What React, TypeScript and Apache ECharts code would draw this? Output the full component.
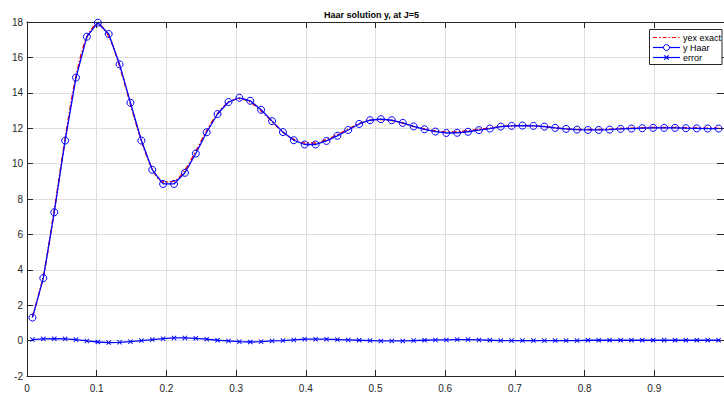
import React, { useEffect, useRef } from "react";
import * as echarts from "echarts";

// Haar collocation points (J=5, 64 points)
const xGrid = [
  0.0078, 0.0234, 0.0391, 0.0547, 0.0703, 0.0859, 0.1016, 0.1172, 0.1328, 0.1484,
  0.1641, 0.1797, 0.1953, 0.2109, 0.2266, 0.2422, 0.2578, 0.2734, 0.2891, 0.3047,
  0.3203, 0.3359, 0.3516, 0.3672, 0.3828, 0.3984, 0.4141, 0.4297, 0.4453, 0.4609,
  0.4766, 0.4922, 0.5078, 0.5234, 0.5391, 0.5547, 0.5703, 0.5859, 0.6016, 0.6172,
  0.6328, 0.6484, 0.6641, 0.6797, 0.6953, 0.7109, 0.7266, 0.7422, 0.7578, 0.7734,
  0.7891, 0.8047, 0.8203, 0.8359, 0.8516, 0.8672, 0.8828, 0.8984, 0.9141, 0.9297,
  0.9453, 0.9609, 0.9766, 0.9922,
];

const yExact = [
  1.36, 3.63, 7.36, 11.4, 14.92, 17.15, 17.88, 17.21, 15.51, 13.38,
  11.3, 9.71, 8.96, 9.0, 9.63, 10.7, 11.85, 12.82, 13.46, 13.66,
  13.47, 12.98, 12.38, 11.78, 11.36, 11.16, 11.16, 11.36, 11.63, 11.94,
  12.26, 12.45, 12.49, 12.43, 12.28, 12.1, 11.96, 11.85, 11.77, 11.8,
  11.86, 11.93, 12.0, 12.09, 12.13, 12.15, 12.13, 12.09, 12.02, 11.96,
  11.92, 11.92, 11.92, 11.94, 11.98, 12.0, 12.02, 12.04, 12.04, 12.04,
  12.02, 12.01, 12.0, 12.0,
];

const yHaar = [
  1.3, 3.53, 7.25, 11.3, 14.86, 17.17, 17.96, 17.32, 15.61, 13.44,
  11.3, 9.65, 8.85, 8.85, 9.48, 10.57, 11.77, 12.8, 13.48, 13.72,
  13.55, 13.04, 12.4, 11.78, 11.32, 11.08, 11.08, 11.28, 11.57, 11.9,
  12.24, 12.45, 12.51, 12.45, 12.3, 12.1, 11.94, 11.81, 11.73, 11.74,
  11.8, 11.89, 11.98, 12.09, 12.13, 12.15, 12.13, 12.09, 12.02, 11.96,
  11.92, 11.9, 11.9, 11.92, 11.96, 11.98, 12.0, 12.02, 12.02, 12.02,
  12.0, 11.99, 11.98, 11.98,
];

const errorVals = [
  0.06, 0.1, 0.11, 0.1, 0.06, -0.02, -0.08, -0.11, -0.1, -0.06,
  0.0, 0.06, 0.11, 0.15, 0.15, 0.13, 0.08, 0.02, -0.02, -0.06,
  -0.08, -0.06, -0.02, 0.0, 0.04, 0.08, 0.08, 0.08, 0.06, 0.04,
  0.02, 0.0, -0.02, -0.02, -0.02, 0.0, 0.02, 0.04, 0.04, 0.06,
  0.06, 0.04, 0.02, 0.0, 0.0, 0.0, 0.0, 0.0, 0.0, 0.0,
  0.0, 0.02, 0.02, 0.02, 0.02, 0.02, 0.02, 0.02, 0.02, 0.02,
  0.02, 0.02, 0.02, 0.02,
];

const TITLE = "Haar solution y, at J=5";
const SERIES_NAMES = ["yex exact", "y Haar", "error"];

export default function App() {
  const ref = useRef<HTMLDivElement>(null);

  useEffect(() => {
    if (!ref.current) return;
    const chart = echarts.init(ref.current, null, { renderer: "svg" });
    const pairs = (ys: number[]) => xGrid.map((x, i) => [x, ys[i]]);
    const axisColor = "#262626";
    const gridColor = "#dfdfdf";
    const font = "Arial, 'Liberation Sans', Helvetica, sans-serif";
    const blue = "#0000ff";
    const red = "#ff0000";
    const xMark =
      "path://M0,1.3L1.3,0L5,3.7L8.7,0L10,1.3L6.3,5L10,8.7L8.7,10L5,6.3L1.3,10L0,8.7L3.7,5Z";

    const baseX = {
      type: "value",
      min: 0,
      max: 1,
      interval: 0.1,
    };
    const baseY = {
      type: "value",
      min: -2,
      max: 18,
      interval: 2,
    };

    const lgX = 649.5;
    const lgY = 29.5;
    const rowY = [37.5, 47.5, 57.5];
    const sx1 = 653;
    const sx2 = 680;
    const sxm = 666.5;
    const tx = 683;

    chart.setOption({
      animation: false,
      title: {
        text: TITLE,
        left: 324,
        top: 10,
        padding: 0,
        textStyle: { fontSize: 9, fontWeight: "bold", color: "#000", fontFamily: font },
      },
      grid: { left: 27, right: -6, top: 22, bottom: 16 },
      xAxis: [
        {
          ...baseX,
          position: "bottom",
          axisLine: { show: true, onZero: false, lineStyle: { color: axisColor, width: 1 } },
          axisTick: { show: true, inside: true, length: 6, lineStyle: { color: axisColor } },
          axisLabel: {
            color: axisColor,
            fontSize: 10,
            margin: 7,
            showMaxLabel: false,
            fontFamily: font,
          },
          splitLine: { show: true, lineStyle: { color: gridColor, width: 1 } },
        },
        {
          ...baseX,
          position: "top",
          axisLine: { show: true, onZero: false, lineStyle: { color: axisColor, width: 1 } },
          axisTick: { show: true, inside: true, length: 6, lineStyle: { color: axisColor } },
          axisLabel: { show: false },
          splitLine: { show: false },
        },
      ],
      yAxis: [
        {
          ...baseY,
          position: "left",
          axisLine: { show: true, onZero: false, lineStyle: { color: axisColor, width: 1 } },
          axisTick: { show: true, inside: true, length: 6, lineStyle: { color: axisColor } },
          axisLabel: { color: axisColor, fontSize: 10, margin: 4, fontFamily: font },
          splitLine: { show: true, lineStyle: { color: gridColor, width: 1 } },
        },
        {
          ...baseY,
          position: "right",
          axisLine: { show: true, onZero: false, lineStyle: { color: axisColor, width: 1 } },
          axisTick: { show: true, inside: true, length: 7, lineStyle: { color: axisColor } },
          axisLabel: { show: false },
          splitLine: { show: false },
        },
      ],
      series: [
        {
          name: SERIES_NAMES[0],
          type: "line",
          data: pairs(yExact),
          smooth: 0.3,
          showSymbol: false,
          symbol: "none",
          lineStyle: { color: red, width: 1.5, type: [5, 2, 1.5, 2] },
          z: 2,
        },
        {
          name: SERIES_NAMES[1],
          type: "line",
          data: pairs(yHaar),
          symbol: "circle",
          symbolSize: 7,
          itemStyle: { color: "rgba(0,0,0,0)", borderColor: blue, borderWidth: 1 },
          lineStyle: { color: blue, width: 1.3 },
          z: 3,
        },
        {
          name: SERIES_NAMES[2],
          type: "line",
          data: pairs(errorVals),
          symbol: xMark,
          symbolSize: 5,
          itemStyle: { color: blue },
          lineStyle: { color: blue, width: 1.3 },
          z: 4,
        },
      ],
      graphic: [
        {
          type: "rect",
          z: 100,
          shape: { x: lgX, y: lgY, width: 72.5, height: 35 },
          style: { fill: "#fff", stroke: axisColor, lineWidth: 1 },
        },
        {
          type: "line",
          z: 101,
          shape: { x1: sx1, y1: rowY[0], x2: sx2, y2: rowY[0] },
          style: { stroke: red, lineWidth: 1.2, lineDash: [4, 2, 1.5, 2] },
        },
        {
          type: "line",
          z: 101,
          shape: { x1: sx1, y1: rowY[1], x2: sx2, y2: rowY[1] },
          style: { stroke: blue, lineWidth: 1.2 },
        },
        {
          type: "circle",
          z: 102,
          shape: { cx: sxm, cy: rowY[1], r: 3 },
          style: { fill: "#fff", stroke: blue, lineWidth: 1 },
        },
        {
          type: "line",
          z: 101,
          shape: { x1: sx1, y1: rowY[2], x2: sx2, y2: rowY[2] },
          style: { stroke: blue, lineWidth: 1.2 },
        },
        {
          type: "line",
          z: 102,
          shape: { x1: sxm - 2.2, y1: rowY[2] - 2.2, x2: sxm + 2.2, y2: rowY[2] + 2.2 },
          style: { stroke: blue, lineWidth: 1.2 },
        },
        {
          type: "line",
          z: 102,
          shape: { x1: sxm - 2.2, y1: rowY[2] + 2.2, x2: sxm + 2.2, y2: rowY[2] - 2.2 },
          style: { stroke: blue, lineWidth: 1.2 },
        },
        ...SERIES_NAMES.map((name, i) => ({
          type: "text",
          z: 102,
          x: tx,
          y: rowY[i],
          style: {
            text: name,
            fontSize: 9,
            fontFamily: font,
            fill: "#000",
            verticalAlign: "middle",
            align: "left",
          },
        })),
      ],
    });

    return () => {
      chart.dispose();
    };
  }, []);

  return (
    <div
      ref={ref}
      style={{ position: "absolute", left: 0, top: 0, width: 724, height: 393, background: "#fff" }}
    />
  );
}
